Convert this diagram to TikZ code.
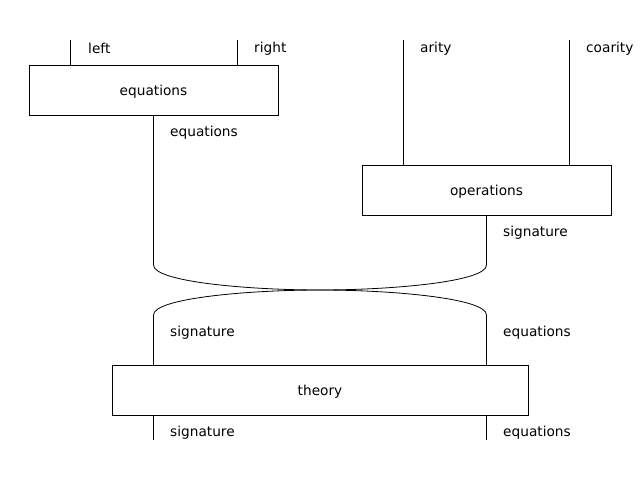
\documentclass[tikz,border=0pt]{standalone}
\usepackage{fontspec}
\setmainfont{DejaVu Sans}
\usetikzlibrary{positioning}

\begin{document}
\begin{tikzpicture}[x=1pt, y=-1pt,
    every node/.style={font=\fontsize{13.7}{16}\selectfont},
    morphism/.style={draw, minimum height=50pt, inner sep=0pt, text depth=0pt},
    wirelabel/.style={anchor=west, inner sep=0pt, yshift=-1.5pt},
    wire/.style={line width=0.8pt}]
    \useasboundingbox (0,0) rectangle (640,480);

    % Boxes
    \node[morphism, minimum width=249pt] (eqbox) at (153.5,90) {equations};
    \node[morphism, minimum width=249pt] (opbox) at (486.5,190) {operations};
    \node[morphism, minimum width=416pt] (thbox) at (320,390) {theory};

    % Free wire ends
    \coordinate (left) at (70,40);
    \coordinate (right) at (237,40);
    \coordinate (arity) at (403,40);
    \coordinate (coarity) at (569,40);
    \coordinate (eqbend) at (153.5,265);
    \coordinate (sigbend) at (486.5,265);
    \coordinate (merge) at (320,290);
    \coordinate (sigsplit) at (153.5,315);
    \coordinate (eqsplit) at (486.5,315);
    \coordinate (sigout) at (153.5,440);
    \coordinate (eqout) at (486.5,440);

    % Input wires
    \draw[wire] (left) -- (left |- eqbox.north);
    \draw[wire] (right) -- (right |- eqbox.north);
    \draw[wire] (arity) -- (arity |- opbox.north);
    \draw[wire] (coarity) -- (coarity |- opbox.north);

    % Merge the two outputs
    \draw[wire] (eqbox.south) -- (eqbend)
        .. controls (153.5,282) and (250,290) .. (merge);
    \draw[wire] (opbox.south) -- (sigbend)
        .. controls (486.5,282) and (390,290) .. (merge);

    % Split again into the theory box
    \draw[wire] (merge) .. controls (250,290) and (153.5,298) .. (sigsplit)
        -- (sigsplit |- thbox.north);
    \draw[wire] (merge) .. controls (390,290) and (486.5,298) .. (eqsplit)
        -- (eqsplit |- thbox.north);

    % Output wires
    \draw[wire] (sigout |- thbox.south) -- (sigout);
    \draw[wire] (eqout |- thbox.south) -- (eqout);

    % Wire labels
    \node[wirelabel] (leftlab) at (88,47) {left};
    \node[wirelabel] (rightlab) at (254,47) {right};
    \node[wirelabel] (aritylab) at (420,47) {arity};
    \node[wirelabel] (coaritylab) at (586,47) {coarity};
    \node[wirelabel] (eqlab) at (170,131) {equations};
    \node[wirelabel] (siglab) at (503,231) {signature};
    \node[wirelabel] (sigmidlab) at (170,331) {signature};
    \node[wirelabel] (eqmidlab) at (503,331) {equations};
    \node[wirelabel] (sigoutlab) at (170,431) {signature};
    \node[wirelabel] (eqoutlab) at (503,431) {equations};
\end{tikzpicture}
\end{document}
